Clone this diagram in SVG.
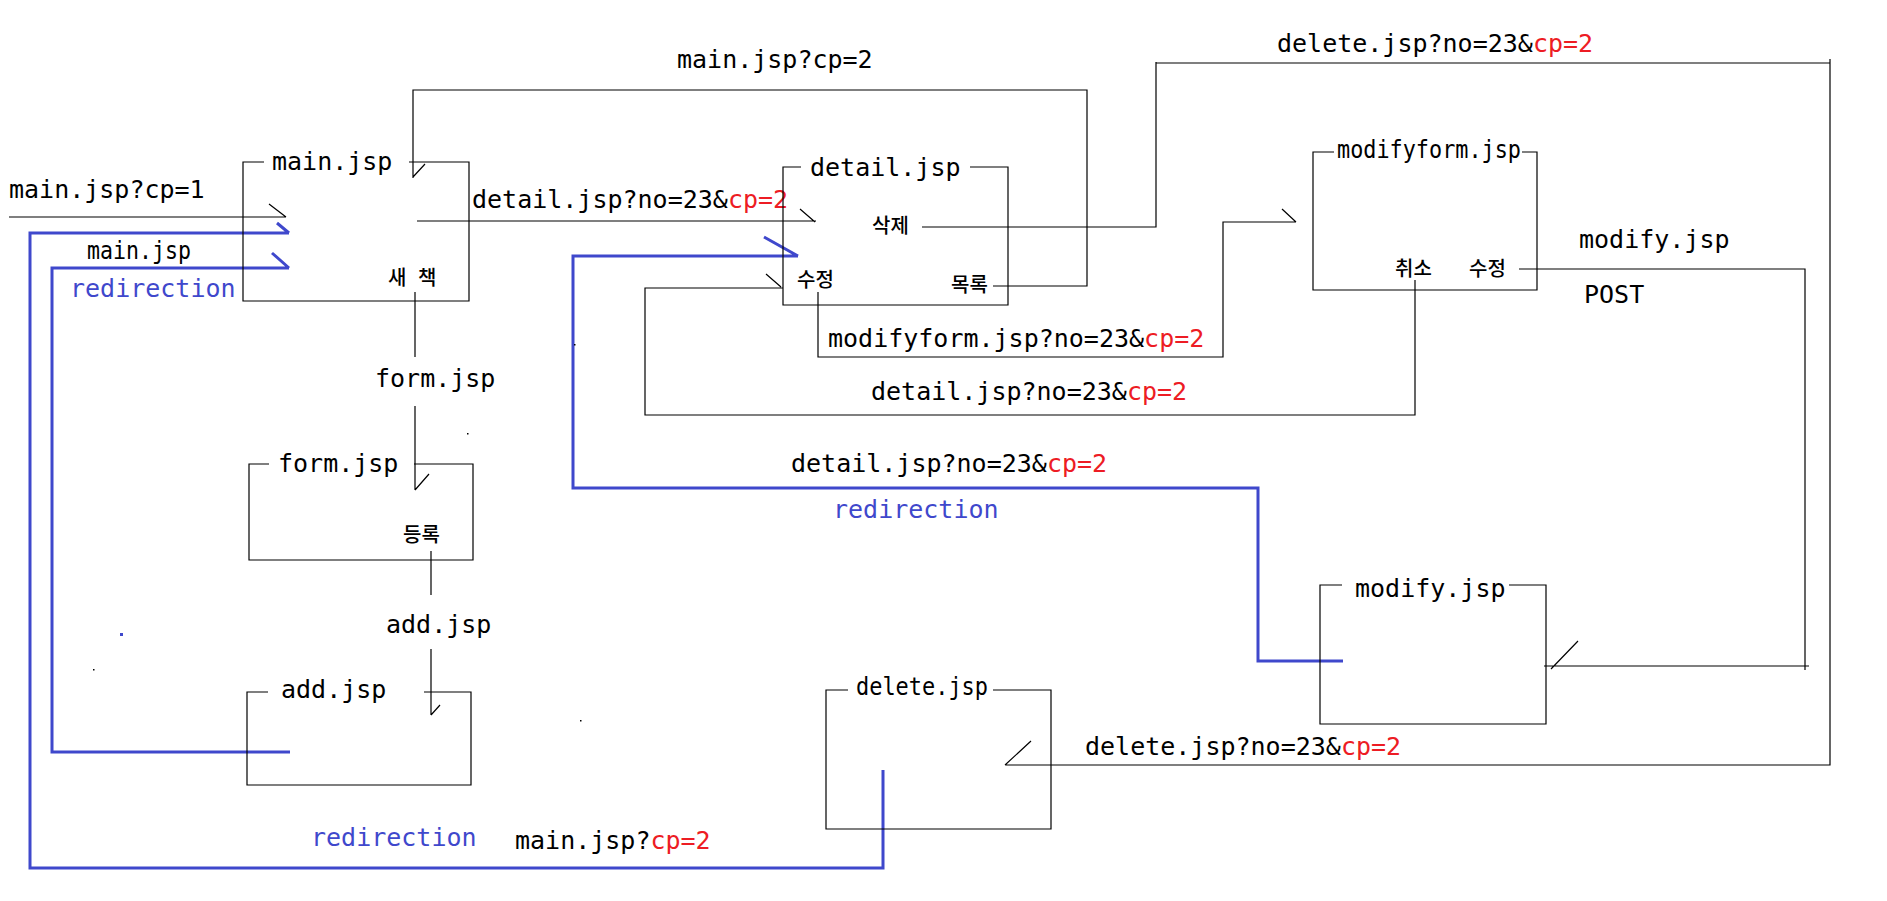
<svg xmlns="http://www.w3.org/2000/svg" width="1887" height="901" viewBox="0 0 1887 901">
<style>
.bg{fill:#ffffff}
.ln{fill:none;stroke:#000;stroke-width:1.2}
.bl{fill:none;stroke:#3f48cc;stroke-width:3}
.t{font-family:"DejaVu Sans Mono","Liberation Mono",monospace;font-size:25px;fill:#000}
.b{fill:#3f48cc}
.r{fill:#ed1c24}
.k{font-family:"Noto Sans CJK KR","Noto Sans",sans-serif;font-size:20px;font-weight:500;fill:#000}
</style>
<rect class="bg" x="0" y="0" width="1887" height="901"/>
<g id="connectors">
  <path class="ln" d="M9,217 H286 M269,204 L286,217"/>
  <path class="ln" d="M417,221 H816 M800,209 L815,222"/>
  <path class="ln" d="M993,286 H1087 V90 H413 V178 M413,177 L425,164"/>
  <path class="ln" d="M922,227 H1156 V62 M1156,63 H1830 M1830,59 V765 H1005 M1005,765 L1031,741"/>
  <path class="ln" d="M818,292 V357 H1223 V222 H1296 M1282,209 L1296,222"/>
  <path class="ln" d="M1415,280 V415 H645 V288 H783 M766,274 L781,287"/>
  <path class="ln" d="M1519,269 H1805 V670 M1809,666 H1544 M1551,669 L1578,641"/>
  <path class="ln" d="M415,292 V357 M415,406 V490 M415,490 L429,474"/>
  <path class="ln" d="M431,551 V595 M431,649 V715 M431,715 L440,705"/>
  <path class="bl" d="M290,752 H52 V268 H289 M272,253 L289,268"/>
  <path class="bl" d="M883,770 V868 H30 V233 H289 M277,223 L289,233"/>
  <path class="bl" d="M1343,661 H1258 V488 H573 V256 H798 M764,237 L798,256"/>
  <text class="t" x="9" y="198">main.jsp?cp=1</text>
  <text class="t" x="87" y="259" textLength="104" lengthAdjust="spacingAndGlyphs">main.jsp</text>
  <text class="t b" x="70" y="297">redirection</text>
  <text class="t" x="472" y="208">detail.jsp?no=23&amp;<tspan class="r">cp=2</tspan></text>
  <text class="t" x="677" y="68">main.jsp?cp=2</text>
  <text class="t" x="1277" y="52">delete.jsp?no=23&amp;<tspan class="r">cp=2</tspan></text>
  <text class="t" x="1579" y="248">modify.jsp</text>
  <text class="t" x="1584" y="303">POST</text>
  <text class="t" x="828" y="347">modifyform.jsp?no=23&amp;<tspan class="r">cp=2</tspan></text>
  <text class="t" x="871" y="400">detail.jsp?no=23&amp;<tspan class="r">cp=2</tspan></text>
  <text class="t" x="791" y="472">detail.jsp?no=23&amp;<tspan class="r">cp=2</tspan></text>
  <text class="t b" x="833" y="518">redirection</text>
  <text class="t" x="375" y="387">form.jsp</text>
  <text class="t" x="386" y="633">add.jsp</text>
  <text class="t" x="1085" y="755">delete.jsp?no=23&amp;<tspan class="r">cp=2</tspan></text>
  <text class="t b" x="311" y="846">redirection</text>
  <text class="t" x="515" y="849">main.jsp?<tspan class="r">cp=2</tspan></text>
</g>
<g id="node-main">
  <path class="ln" d="M264,162 H243 V301 H469 V162 H409"/>
  <text class="t" x="272" y="170">main.jsp</text>
  <text class="k" x="388" y="285">새<tspan x="418">책</tspan></text>
</g>
<g id="node-detail">
  <path class="ln" d="M801,167 H783 V305 H1008 V167 H970"/>
  <text class="t" x="810" y="176">detail.jsp</text>
  <text class="k" x="872" y="233">삭제</text>
  <text class="k" x="797" y="287">수정</text>
  <text class="k" x="951" y="292">목록</text>
</g>
<g id="node-modifyform">
  <path class="ln" d="M1334,152 H1313 V290 H1537 V152 H1522"/>
  <text class="t" x="1337" y="158" textLength="184" lengthAdjust="spacingAndGlyphs">modifyform.jsp</text>
  <text class="k" x="1395" y="276">취소</text>
  <text class="k" x="1469" y="276">수정</text>
</g>
<g id="node-form">
  <path class="ln" d="M269,464 H249 V560 H473 V464 H414"/>
  <text class="t" x="278" y="472">form.jsp</text>
  <text class="k" x="403" y="542">등록</text>
</g>
<g id="node-add">
  <path class="ln" d="M268,692 H247 V785 H471 V692 H424"/>
  <text class="t" x="281" y="698">add.jsp</text>
</g>
<g id="node-modify">
  <path class="ln" d="M1342,585 H1320 V724 H1546 V585 H1509"/>
  <text class="t" x="1355" y="597">modify.jsp</text>
</g>
<g id="node-delete">
  <path class="ln" d="M848,690 H826 V829 H1051 V690 H993"/>
  <text class="t" x="856" y="695" textLength="132" lengthAdjust="spacingAndGlyphs">delete.jsp</text>
</g>
<g id="specks">
  <rect x="120" y="633" width="3" height="3" fill="#3f48cc"/>
  <rect x="93" y="669" width="1.5" height="1.5" fill="#000"/>
  <rect x="467" y="433" width="1.5" height="1.5" fill="#000"/>
  <rect x="580" y="720" width="1.5" height="1.5" fill="#000"/>
  <rect x="574" y="344" width="1.5" height="1.5" fill="#000"/>
</g>
</svg>
